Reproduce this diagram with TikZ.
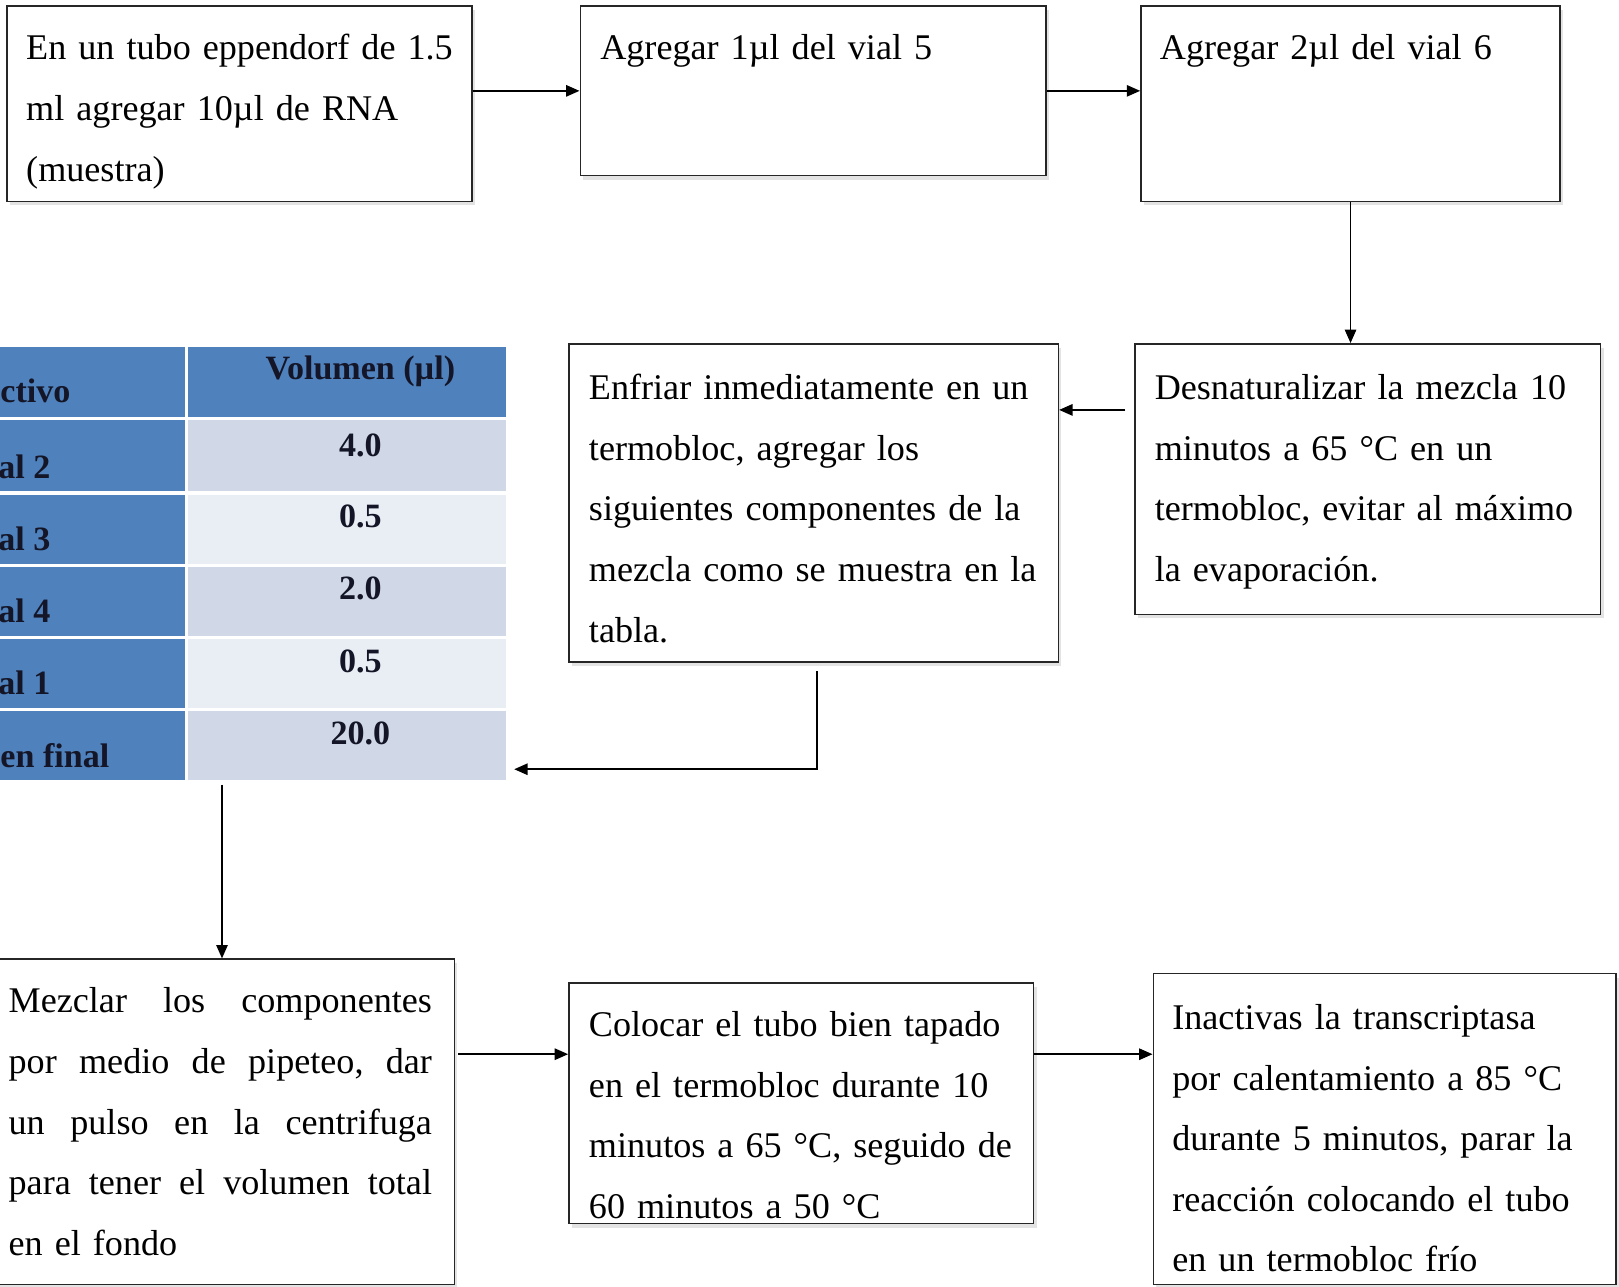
\documentclass[tikz,border=0pt]{standalone}
\usepackage{fontspec}
\setmainfont{Liberation Serif}
\usetikzlibrary{arrows.meta,fit,shadows}
\definecolor{tblue}{RGB}{79,129,189}
\definecolor{tlightA}{RGB}{208,216,232}
\definecolor{tlightB}{RGB}{233,237,244}
\definecolor{tink}{RGB}{20,22,40}
\newcommand{\bodyfont}{\fontsize{17.5}{29.35}\selectfont}
\newcommand{\tabfont}{\fontsize{16.5}{20}\selectfont\bfseries}
\newcommand{\jl}[1]{\leavevmode\hbox to 205pt{#1}}
\begin{document}
\begin{tikzpicture}[x=0.5pt,y=-0.5pt,
  box/.style={draw=black!85, line width=0.75pt, fill=white, inner sep=0pt,
    drop shadow={shadow xshift=1.5pt, shadow yshift=-2pt, opacity=0.22}},
  txt/.style={inner sep=0pt, text width=245pt, align=left, font=\bodyfont, anchor=base west},
  arr/.style={line width=0.85pt, -{Triangle[length=6.5pt,width=5.5pt]}},
  ttxt/.style={inner sep=0pt, font=\tabfont, text=tink, anchor=base}]
\useasboundingbox (0,0) rectangle (1568,1246);
\fill[white] (0,0) rectangle (1568,1246);

% boxes
\node[box, fit={(7,6) (457,195)}] (A) {};
\node[box, fit={(562,6) (1013,170)}] (B) {};
\node[box, fit={(1105,6) (1511,195)}] (C) {};
\node[box, fit={(1099,333) (1550,595)}] (D) {};
\node[box, fit={(551,333) (1025,641)}] (E) {};
\node[box, fit={(-4,929) (440,1244)}] (F) {};
\node[box, fit={(551,952) (1001,1185)}] (G) {};
\node[box, fit={(1117,943) (1565,1244)}] (H) {};

% texts
\node[txt] (At) at (25,58) {En un tubo eppendorf de 1.5\\ml agregar 10µl de RNA\\(muestra)};
\node[txt] (Bt) at (581,58) {Agregar 1µl del vial 5};
\node[txt] (Ct) at (1123,58) {Agregar 2µl del vial 6};
\node[txt] (Dt) at (1118,387) {Desnaturalizar la mezcla 10\\minutos a 65 °C en un\\termobloc, evitar al máximo\\la evaporación.};
\node[txt] (Et) at (570,387) {Enfriar inmediatamente en un\\termobloc, agregar los\\siguientes componentes de la\\mezcla como se muestra en la\\tabla.};
\node[txt, text width=205pt] (Ft) at (8,981) {\jl{Mezclar\hfill los\hfill componentes}\\\jl{por\hfill medio\hfill de\hfill pipeteo,\hfill dar}\\\jl{un\hfill pulso\hfill en\hfill la\hfill centrifuga}\\\jl{para\hfill tener\hfill el\hfill volumen\hfill total}\\en el fondo};
\node[txt] (Gt) at (570,1004) {Colocar el tubo bien tapado\\en el termobloc durante 10\\minutos a 65 °C, seguido de\\60 minutos a 50 °C};
\node[txt] (Ht) at (1135,997) {Inactivas la transcriptasa\\por calentamiento a 85 °C\\durante 5 minutos, parar la\\reacción colocando el tubo\\en un termobloc frío};

% table
\node[inner sep=0pt, fit={(0,336) (490,755)}] (Tbl) {};
\begin{scope}
\clip (0,330) rectangle (500,760);
\fill[tblue] (-10,336) rectangle (179,404);
\fill[tblue] (182,336) rectangle (490,404);
\foreach \ya/\yb/\cc in {407/476/tlightA, 479/546/tlightB, 549/616/tlightA, 619/686/tlightB, 689/755/tlightA}{
  \fill[tblue] (-10,\ya) rectangle (179,\yb);
  \fill[\cc] (182,\ya) rectangle (490,\yb);
}
\node[ttxt, anchor=base west] (h1) at (0,390) {ctivo};
\node[ttxt] (h2) at (349,368) {Volumen (µl)};
\node[ttxt, anchor=base west] (r1a) at (-2,463) {al 2};
\node[ttxt, anchor=base west] (r2a) at (-2,533) {al 3};
\node[ttxt, anchor=base west] (r3a) at (-2,603) {al 4};
\node[ttxt, anchor=base west] (r4a) at (-2,673) {al 1};
\node[ttxt, anchor=base west] (r5a) at (0,743) {en final};
\node[ttxt] (r1b) at (349,442) {4.0};
\node[ttxt] (r2b) at (349,511) {0.5};
\node[ttxt] (r3b) at (349,581) {2.0};
\node[ttxt] (r4b) at (349,651) {0.5};
\node[ttxt] (r5b) at (349,721) {20.0};
\end{scope}

% connectors
\draw[arr] (A.east |- B.west) -- (B.west);
\draw[arr] (B.east) -- (B.east -| C.west);
\draw[arr] (C.south) -- (C.south |- D.north);
\coordinate (d1) at (1090,397);
\draw[arr] (d1) -- (d1 -| E.east);
\coordinate (e1) at (791,650);
\coordinate (t1) at (498,745);
\draw[arr] (e1) |- (t1);
\coordinate (t2) at (215,760);
\draw[arr] (t2) -- (t2 |- F.north);
\coordinate (f1) at (444,1021);
\draw[arr] (f1) -- (f1 -| G.west);
\draw[arr] (G.east |- f1) -- (f1 -| H.west);
\end{tikzpicture}
\end{document}
